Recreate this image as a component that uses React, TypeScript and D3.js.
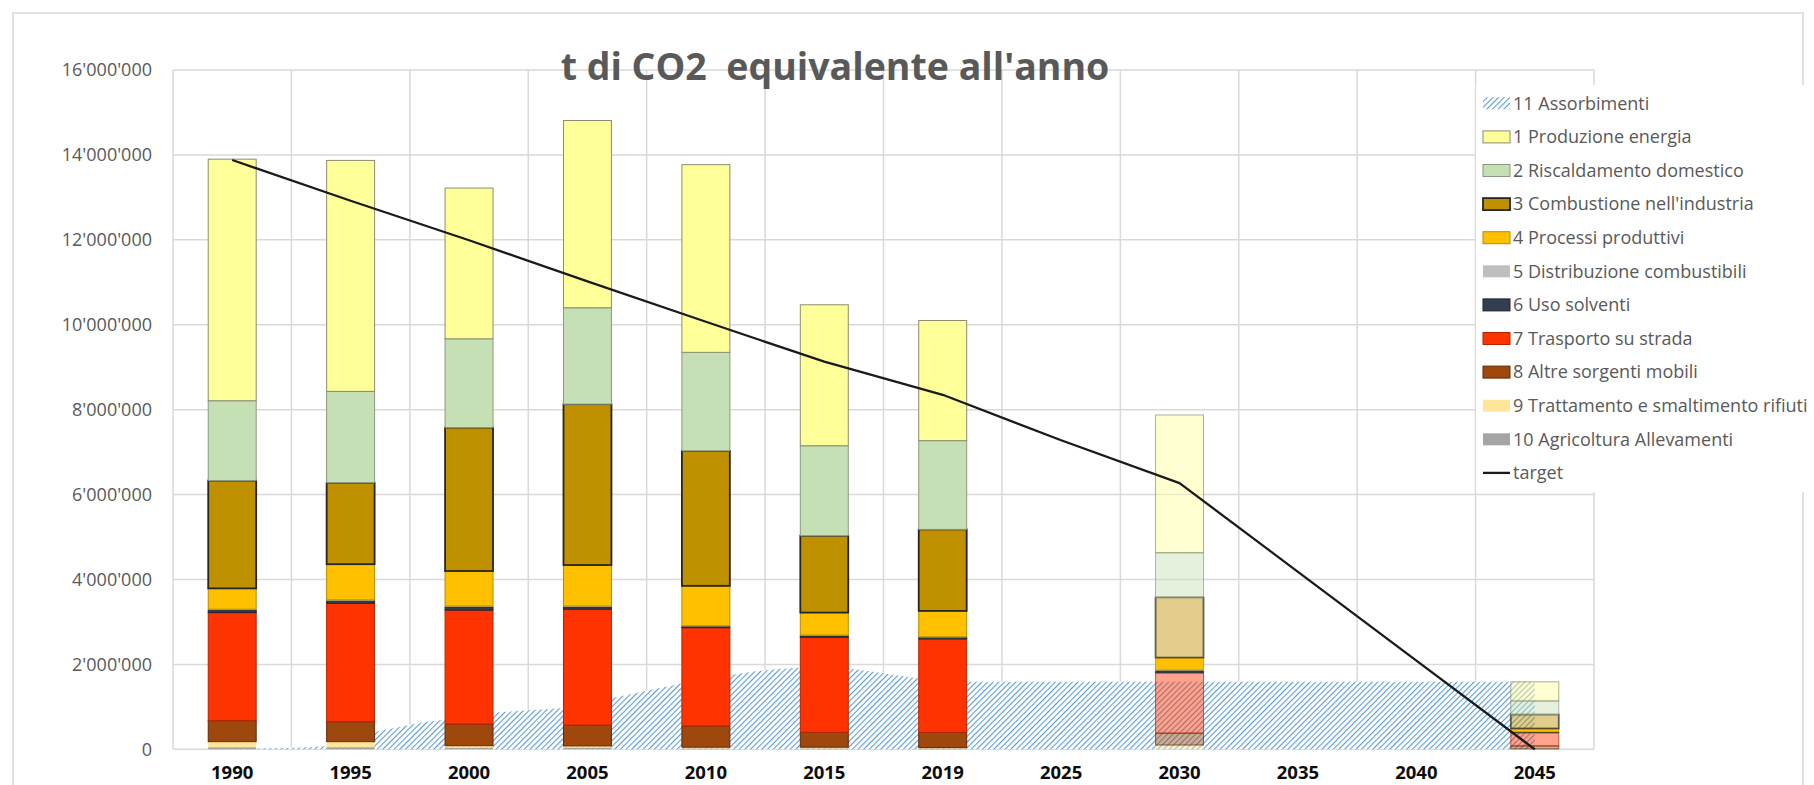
import React from 'react';
import * as d3 from 'd3';

const categories = ['1990', '1995', '2000', '2005', '2010', '2015', '2019', '2025', '2030', '2035', '2040', '2045'];

const seriesNames = [
  '1 Produzione energia',
  '2 Riscaldamento domestico',
  "3 Combustione nell'industria",
  '4 Processi produttivi',
  '5 Distribuzione combustibili',
  '6 Uso solventi',
  '7 Trasporto su strada',
  '8 Altre sorgenti mobili',
  '9 Trattamento e smaltimento rifiuti',
  '10 Agricoltura Allevamenti',
];

const s1Produzione = [5690000, 5440000, 3550000, 4410000, 4420000, 3320000, 2830000, 0, 3245000, 0, 0, 450000];
const s2Riscaldamento = [1880000, 2150000, 2090000, 2270000, 2320000, 2120000, 2090000, 0, 1050000, 0, 0, 320000];
const s3Combustione = [2540000, 1920000, 3380000, 3790000, 3180000, 1810000, 1920000, 0, 1420000, 0, 0, 330000];
const s4Processi = [490000, 840000, 825000, 965000, 940000, 530000, 610000, 0, 290000, 0, 0, 80000];
const s5Distribuzione = [20000, 20000, 20000, 20000, 15000, 15000, 15000, 0, 20000, 0, 0, 0];
const s6Solventi = [60000, 60000, 75000, 55000, 30000, 35000, 35000, 0, 50000, 0, 0, 20000];
const s7Trasporto = [2545000, 2790000, 2684000, 2730000, 2315000, 2240000, 2200000, 0, 1420000, 0, 0, 310000];
const s8Altre = [495000, 470000, 510000, 490000, 500000, 350000, 360000, 0, 280000, 0, 0, 70000];
const s9Rifiuti = [130000, 130000, 45000, 40000, 30000, 30000, 20000, 0, 100000, 0, 0, 10000];
const s10Agricoltura = [50000, 50000, 40000, 40000, 20000, 20000, 20000, 0, 0, 0, 0, 0];

const target = [13880000, 12920000, 11990000, 11020000, 10070000, 9130000, 8350000, 7280000, 6270000, 4180000, 2090000, 0];

const absorptionYears = d3.range(1990, 2046);
const absorption = [
  20000, 20000, 30000, 40000, 70000, 200000, 410000, 520000, 630000, 700000,
  780000, 860000, 900000, 935000, 970000, 1080000, 1200000, 1320000, 1440000, 1555000,
  1660000, 1750000, 1830000, 1890000, 1920000, 1920000, 1910000, 1830000, 1750000, 1670000,
  1620000, 1590000, 1590000, 1590000, 1590000, 1590000, 1590000, 1590000, 1590000, 1590000,
  1590000, 1590000, 1590000, 1590000, 1590000, 1590000, 1590000, 1590000, 1590000, 1590000,
  1590000, 1590000, 1590000, 1590000, 1590000, 1590000,
];

const projectedCategories = ['2030', '2045'];
const yTicks = [0, 2000000, 4000000, 6000000, 8000000, 10000000, 12000000, 14000000, 16000000];

const seriesValues = [s1Produzione, s2Riscaldamento, s3Combustione, s4Processi, s5Distribuzione, s6Solventi, s7Trasporto, s8Altre, s9Rifiuti, s10Agricoltura];

const fills = ['#ffff99', '#c5e0b4', '#bf9000', '#ffc000', '#bfbfbf', '#333f50', '#ff3300', '#9e480e', '#ffe699', '#a5a5a5'];
const strokes = ['#8c8c70', '#8a9a80', '#262626', '#b88a00', 'none', '#1c2430', '#b32400', '#5e2a08', 'none', 'none'];
const strokeWidths = [1, 1, 1.8, 1, 0, 1, 1, 1, 0, 0];
const opaqueInProjection = [false, false, false, true, false, true, false, false, false, false];

const W = 1814;
const H = 785;
const plotLeft = 173;
const plotRight = 1594;
const plotTop = 70;
const plotBottom = 749.3;

const fmt = (v: number) => d3.format(',')(v).replace(/,/g, "'");

export default function App() {
  const x = d3.scaleBand<string>().domain(categories).range([plotLeft, plotRight]).padding(0);
  const bw = x.bandwidth();
  const barW = bw * 0.405;
  const y = d3.scaleLinear().domain([0, 16000000]).range([plotBottom, plotTop]);
  const xc = (c: string) => (x(c) as number) + bw / 2;
  const xYear = d3.scaleLinear().domain([1990, 2045]).range([xc('1990'), xc('2045')]);

  const rows = categories.map((c, i) => {
    const r: any = { cat: c };
    seriesNames.forEach((n, k) => (r[n] = seriesValues[k][i]));
    return r;
  });
  const stackKeys = [...seriesNames].reverse(); // bottom-up: 10 .. 1
  const stacked = d3.stack<any>().keys(stackKeys)(rows);

  const area = d3
    .area<number>()
    .x((_, i) => xYear(absorptionYears[i]))
    .y0(y(0))
    .y1((d) => y(d));

  const line = d3
    .line<number>()
    .x((_, i) => xc(categories[i]))
    .y((d) => y(d));

  const vLines = d3.range(categories.length + 1).map((k) => plotLeft + k * bw);

  const legendX = 1483;
  const legendY0 = 103.3;
  const legendStep = 33.6;
  const legendItems = ['11 Assorbimenti', ...seriesNames, 'target'];

  return (
    <svg
      width={W}
      height={H}
      style={{ position: 'absolute', left: 0, top: 0, background: '#fff' }}
      fontFamily="'Open Sans', sans-serif"
    >
      <defs>
        <pattern id="hatch" width="4" height="4" patternUnits="userSpaceOnUse" patternTransform="rotate(45)">
          <rect width="4" height="4" fill="#ffffff" />
          <line x1="0" y1="0" x2="0" y2="4" stroke="#5b9bd5" strokeWidth="2.2" />
        </pattern>
      </defs>
      <rect x={0} y={0} width={W} height={H} fill="#fff" />
      <rect x={13} y={13} width={1790} height={800} fill="none" stroke="#d9d9d9" strokeWidth={1.5} />

      {/* gridlines */}
      {yTicks.map((t) => (
        <line key={'h' + t} x1={plotLeft} x2={plotRight} y1={y(t)} y2={y(t)} stroke="#d9d9d9" strokeWidth={1.5} />
      ))}
      {vLines.map((vx, k) => (
        <line key={'v' + k} x1={vx} x2={vx} y1={plotTop} y2={plotBottom} stroke="#d9d9d9" strokeWidth={1.5} />
      ))}

      {/* absorption area */}
      <path d={area(absorption) || ''} fill="url(#hatch)" />

      {/* bars */}
      {stacked.map((layer) => {
        const k = seriesNames.indexOf(layer.key);
        return (
          <g key={layer.key}>
            {layer.map((d, i) => {
              const c = categories[i];
              const h = y(d[0]) - y(d[1]);
              if (h <= 0) return null;
              const proj = projectedCategories.includes(c);
              const op = proj && !opaqueInProjection[k] ? 0.45 : 1;
              return (
                <rect
                  key={c}
                  x={xc(c) - barW / 2}
                  y={y(d[1])}
                  width={barW}
                  height={h}
                  fill={fills[k]}
                  fillOpacity={op}
                  stroke={strokes[k]}
                  strokeOpacity={proj ? 0.7 : 1}
                  strokeWidth={strokeWidths[k]}
                />
              );
            })}
          </g>
        );
      })}

      {/* target line */}
      <path d={line(target) || ''} fill="none" stroke="#1a1a1a" strokeWidth={2.3} strokeLinejoin="round" />

      {/* y axis labels */}
      {yTicks.map((t) => (
        <text key={'yl' + t} x={152} y={y(t)} dy="0.35em" textAnchor="end" fontSize={18} fill="#595959">
          {fmt(t)}
        </text>
      ))}
      {/* x axis labels */}
      {categories.map((c) => (
        <text key={'xl' + c} x={xc(c)} y={779} textAnchor="middle" fontSize={18.5} fontWeight="bold" fill="#0d0d0d">
          {c}
        </text>
      ))}

      {/* title */}
      <text x={835} y={80} textAnchor="middle" fontSize={37.5} fontWeight="bold" fill="#595959" xmlSpace="preserve">
        {"t di CO2  equivalente all'anno"}
      </text>

      {/* legend */}
      <rect x={1476} y={85} width={340} height={407} fill="#fff" />
      {legendItems.map((name, idx) => {
        const cy = legendY0 + idx * legendStep;
        let sw: React.ReactNode;
        if (idx === 0) {
          sw = <rect x={legendX} y={cy - 6} width={27} height={12} fill="url(#hatch)" />;
        } else if (idx === legendItems.length - 1) {
          sw = <line x1={legendX} x2={legendX + 27} y1={cy} y2={cy} stroke="#1a1a1a" strokeWidth={2.3} />;
        } else {
          const k = idx - 1;
          sw = (
            <rect
              x={legendX}
              y={cy - 6}
              width={27}
              height={12}
              fill={fills[k]}
              stroke={strokes[k]}
              strokeWidth={strokeWidths[k]}
            />
          );
        }
        return (
          <g key={name}>
            {sw}
            <text x={1513} y={cy} dy="0.35em" fontSize={18} fill="#595959">
              {name}
            </text>
          </g>
        );
      })}
    </svg>
  );
}
